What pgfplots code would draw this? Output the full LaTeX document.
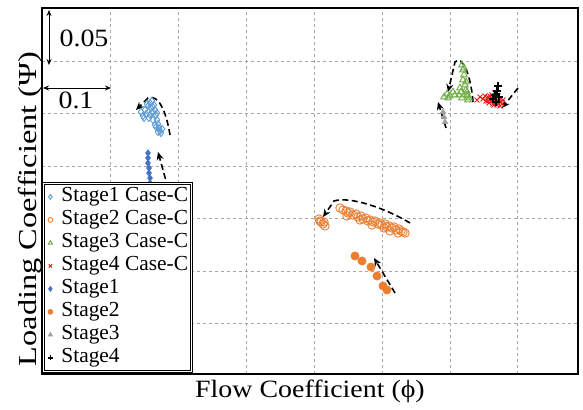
\documentclass[border=0pt]{standalone}
\usepackage{fontspec}
\setmainfont{Liberation Serif}[FakeStretch=1.12]
\newfontfamily\legfont{Liberation Serif}
\newfontfamily\ylfont{Liberation Serif}[FakeStretch=1.25]
\usepackage{pgfplots}
\pgfplotsset{compat=1.18}
\usetikzlibrary{arrows.meta}
\definecolor{sonec}{RGB}{91,155,213}
\definecolor{sone}{RGB}{68,114,196}
\definecolor{stwo}{RGB}{237,125,49}
\definecolor{sthree}{RGB}{112,173,71}
\definecolor{sthreeg}{RGB}{160,160,160}
\definecolor{sfour}{RGB}{235,30,30}
\begin{document}
\begin{tikzpicture}
\useasboundingbox (-42bp,-36bp) rectangle (541bp,374bp);
\begin{axis}[
  scale only axis, width=536bp, height=366bp,
  xmin=42, xmax=578, ymin=36, ymax=402,
  xtick={110,178,246,314,382,450,517},
  ytick={87,139,192,244,297,349},
  xticklabels={}, yticklabels={},
  major tick length=0pt,
  grid=major,
  grid style={dashed, color=gray!70, line width=0.6pt},
  axis line style={line width=1.8pt},
  clip=false,
  font=\fontsize{25}{28}\selectfont,
  xlabel={Flow Coefficient (ϕ)},
  ylabel={\ylfont Loading Coefficient (Ψ)},
  xlabel style={at={(axis description cs:0.5,0)}, anchor=north, inner sep=0pt, yshift=-6bp},
  ylabel style={at={(axis description cs:0,0.47)}, anchor=south, inner sep=0pt, xshift=-7bp, font=\fontsize{26}{28}\selectfont},
  legend style={at={(axis cs:43,227)}, anchor=north west, draw=black, double, double distance=1.2pt, line width=0.8pt,
     font=\legfont\fontsize{21.5}{23}\selectfont, inner xsep=2bp, inner ysep=2bp, row sep=0pt, column sep=0pt, fill=white,
     nodes={inner sep=1bp, text height=15.5bp, text depth=5.5bp}},
  legend cell align=left,
  legend image code/.code={\path[draw=none, fill=none] (0bp,0bp) -- (15bp,0bp); \draw[#1, only marks, mark size=2.4bp] plot coordinates {(5bp,0bp)};},
]
\addplot[only marks, mark=diamond, mark size=3.6, color=sonec, line width=0.9pt] coordinates {
(141,298) (143,294) (145,300) (146,296) (148,304) (150,307) (151,302) (152,298) (149,292) (154,305)
(155,300) (156,295) (153,290) (157,290) (158,286) (156,283) (159,282) (160,279) (161,277) (158,278)
(147,306) (152,309) (144,292) (150,295) (155,285) (162,281) (157,297) (153,303)};
\addlegendentry{Stage1 Case-C}
\addplot[only marks, mark=o, mark size=4.2, color=stwo, line width=0.9pt] coordinates {
(319,191) (321,188) (323,186) (325,184) (320,189) (324,188)
(340,202) (343,200) (346,199) (348,197) (350,198) (353,195) (356,196) (358,193) (361,194) (363,191)
(366,192) (368,189) (370,190) (373,188) (375,189) (378,186) (380,187) (382,185) (385,186) (387,183)
(389,184) (392,182) (394,183) (396,180) (399,181) (401,179) (403,178) (405,177) (347,194) (360,190)
(372,185) (384,182) (398,177) (390,179)};
\addlegendentry{Stage2 Case-C}
\addplot[only marks, mark=triangle, mark size=3.8, color=sthree, line width=0.9pt] coordinates {
(444,313) (447,316) (450,314) (453,318) (455,315) (448,312) (462,345) (463,340) (464,335) (463,330)
(465,325) (466,320) (467,315) (468,310) (460,322) (459,315) (462,312) (464,342) (466,328) (469,312)
(467,318) (468,314) (461,318)};
\addlegendentry{Stage3 Case-C}
\addplot[only marks, mark=x, mark size=3.5, color=sfour, line width=1pt] coordinates {
(477,310) (480,313) (483,311) (486,309) (488,313) (490,310) (492,315) (494,312) (496,308) (498,314)
(500,311) (502,306) (497,305) (493,306) (489,307) (495,317) (499,309) (491,312) (485,314) (503,310)
(492,309) (494,305) (496,311) (498,307) (500,304) (490,314) (488,309) (501,308)};
\addlegendentry{Stage4 Case-C}
\addplot[only marks, mark=diamond*, mark size=3.4, color=sone] coordinates {
(148,257) (148,252) (148,247) (149,242) (149,237) (150,232) (150,227) (151,222)};
\addlegendentry{Stage1}
\addplot[only marks, mark=*, mark size=4.2, color=stwo] coordinates {
(355,154) (362,149) (371,143) (377,134) (383,124) (387,120)};
\addlegendentry{Stage2}
\addplot[only marks, mark=triangle*, mark size=3.4, color=sthreeg] coordinates {
(443,298) (444,293) (445,288)};
\addlegendentry{Stage3}
\addplot[only marks, mark=+, mark size=4, color=black, line width=1.3pt] coordinates {
(498,324) (497,319) (495,315) (499,313) (493,311) (496,308)};
\addlegendentry{Stage4}
% trend arrows
\draw[black, line width=1.6pt, dash pattern=on 6pt off 3.5pt, -{Stealth[length=8pt,width=7pt]}]
  (axis cs:170,275) .. controls (axis cs:166,300) and (axis cs:158,316) .. (axis cs:148,312) -- (axis cs:136,300);
\draw[black, line width=1.6pt, dash pattern=on 6pt off 3.5pt, -{Stealth[length=8pt,width=7pt]}]
  (axis cs:168,222) -- (axis cs:158,258);
\draw[black, line width=1.6pt, dash pattern=on 6pt off 3.5pt, -{Stealth[length=8pt,width=7pt]}]
  (axis cs:410,187) .. controls (axis cs:385,202) and (axis cs:350,214) .. (axis cs:334,209) -- (axis cs:323,193);
\draw[black, line width=1.6pt, dash pattern=on 6pt off 3.5pt, -{Stealth[length=8pt,width=7pt]}]
  (axis cs:395,117) -- (axis cs:374,152);
\draw[black, line width=1.6pt, dash pattern=on 6pt off 3.5pt, -{Stealth[length=8pt,width=7pt]}]
  (axis cs:473,308) .. controls (axis cs:471,335) and (axis cs:462,356) .. (axis cs:455,348) -- (axis cs:448,318);
\draw[black, line width=1.6pt, dash pattern=on 6pt off 3.5pt, -{Stealth[length=8pt,width=7pt]}]
  (axis cs:446,282) -- (axis cs:438,308);
\draw[black, line width=1.6pt, dash pattern=on 6pt off 3.5pt, -{Stealth[length=8pt,width=7pt]}]
  (axis cs:518,322) -- (axis cs:502,302);
% scale bars
\draw[black, line width=0.9pt, {Stealth[length=6pt,width=5pt]}-{Stealth[length=6pt,width=5pt]}]
  (axis cs:49,400) -- (axis cs:49,345);
\draw[black, line width=0.9pt, {Stealth[length=6pt,width=5pt]}-{Stealth[length=6pt,width=5pt]}]
  (axis cs:43,322) -- (axis cs:111,322);
\node[font=\fontsize{25}{28}\selectfont, inner sep=0pt] at (axis cs:84,372) {0.05};
\node[font=\fontsize{25}{28}\selectfont, inner sep=0pt] at (axis cs:76,310) {0.1};
\end{axis}
\end{tikzpicture}
\end{document}
